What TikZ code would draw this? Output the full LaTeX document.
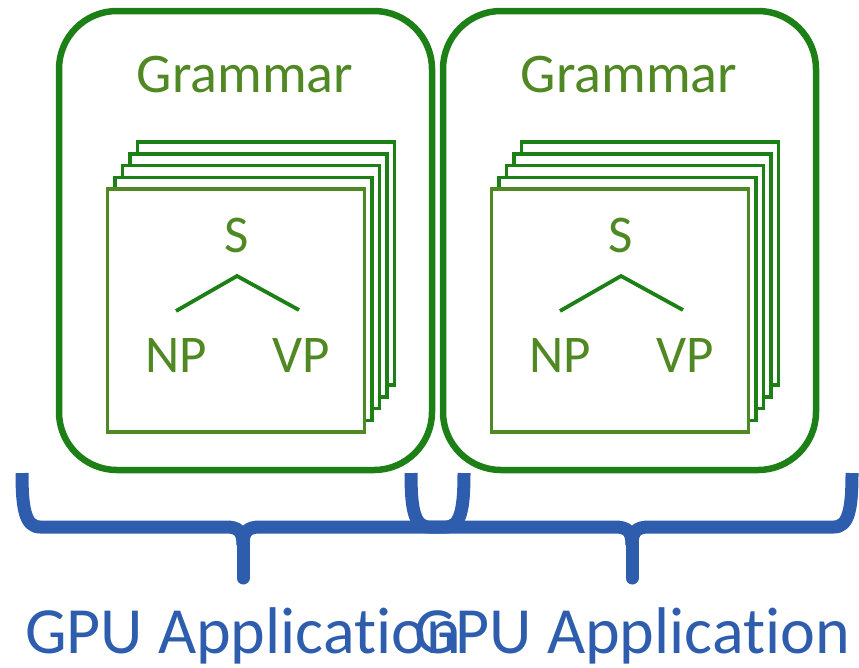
\documentclass[tikz,border=0pt]{standalone}
\usepackage{fontspec}
\setmainfont[Ligatures={NoCommon},RawFeature={-calt}]{Carlito}
\definecolor{boxgreen}{RGB}{29,128,22}
\definecolor{textgreen}{RGB}{80,137,35}
\definecolor{braceblue}{RGB}{45,93,172}
\begin{document}
\begin{tikzpicture}[x=1pt,y=-1pt,
  outerbox/.style={draw=boxgreen, line width=6.5pt, rounded corners=58pt, minimum width=373pt, minimum height=459pt, inner sep=0pt},
  backcard/.style={draw=boxgreen, fill=white, line width=3.5pt, minimum width=257pt, minimum height=243pt, inner sep=0pt},
  frontcard/.style={backcard, draw=textgreen},
  treeline/.style={draw=boxgreen, line width=3.8pt},
  gramtext/.style={text=textgreen, font=\fontsize{56}{60}\selectfont, anchor=base, inner sep=0pt},
  symtext/.style={text=textgreen, font=\fontsize{53}{58}\selectfont, anchor=base, inner sep=0pt},
  bracepath/.style={draw=braceblue, line width=13pt, line join=round},
  gputext/.style={text=braceblue, font=\fontsize{66}{70}\selectfont, anchor=base, inner sep=0pt}
]
\useasboundingbox (0,0) rectangle (859,667);

\foreach \side/\dx in {L/0,R/384}{
  \begin{scope}[xshift=\dx pt]
    \node[outerbox] (box\side) at (245.5,240.5) {};
    \node[gramtext] (gram\side) at (245,92) {Grammar};
    \foreach \k in {4,3,2,1}{
      \node[backcard] (card\side\k) at ({236+7.5*\k},{310.5-11.75*\k}) {};
    }
    \node[frontcard] (front\side) at (236,310.5) {};
    \node[symtext] (S\side) at (237,252) {S};
    \node[symtext] (NP\side) at (176,372) {NP};
    \node[symtext] (VP\side) at (301,372) {VP};
    \coordinate (apex\side) at (237,276);
    \coordinate (legNP\side) at (176,311);
    \coordinate (legVP\side) at (299,310);
    \draw[treeline] (legNP\side) -- (apex\side) -- (legVP\side);
  \end{scope}
}

% left brace
\draw[bracepath] (22,473) .. controls (22,508) and (25,527) .. (40,527) -- (226,527) .. controls (238,527) and (243,531) .. (243,545);
\draw[bracepath] (464,473) .. controls (464,508) and (461,527) .. (446,527) -- (260,527) .. controls (248,527) and (243,531) .. (243,545);
\draw[bracepath, line cap=round] (243,543) -- (243,578);
% right brace
\draw[bracepath] (411,473) .. controls (411,508) and (414,527) .. (429,527) -- (615,527) .. controls (627,527) and (632,531) .. (632,545);
\draw[bracepath] (852,473) .. controls (852,508) and (849,527) .. (834,527) -- (649,527) .. controls (637,527) and (632,531) .. (632,545);
\draw[bracepath, line cap=round] (632,543) -- (632,578);

\node[gputext] (gpuL) at (243,653) {GPU Applicat\kern0pt ion};
\node[gputext] (gpuR) at (632,653) {GPU Applicat\kern0pt ion};
\end{tikzpicture}
\end{document}
